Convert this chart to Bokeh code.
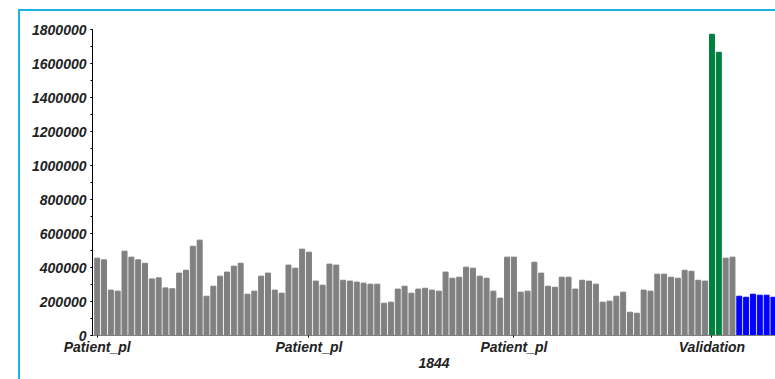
from bokeh.plotting import figure
from bokeh.models import ColumnDataSource, Range1d, FixedTicker, NumeralTickFormatter, InlineStyleSheet
from bokeh.embed import file_html
from bokeh.resources import INLINE

# Sample values, one bar per sample
values = [
    455000, 445000, 267000, 261000, 496000, 461000, 445000, 425000, 333000, 339000,
    280000, 275000, 367000, 384000, 525000, 561000, 231000, 290000, 349000, 373000,
    408000, 425000, 243000, 261000, 349000, 367000, 267000, 249000, 414000, 396000,
    508000, 490000, 320000, 296000, 420000, 414000, 325000, 320000, 314000, 308000,
    302000, 302000, 190000, 196000, 273000, 290000, 249000, 273000, 278000, 267000,
    261000, 373000, 337000, 343000, 402000, 396000, 349000, 337000, 261000, 220000,
    461000, 461000, 255000, 261000, 431000, 367000, 290000, 284000, 343000, 343000,
    273000, 325000, 320000, 302000, 196000, 202000, 231000, 255000, 137000, 131000,
    267000, 261000, 361000, 361000, 343000, 337000, 384000, 378000, 325000, 320000,
    1772000, 1666000, 455000, 461000, 231000, 225000, 243000, 237000, 237000, 225000,
]

# Group of each sample (drives the bar colour)
groups = ["patient"] * 90 + ["reference"] * 2 + ["patient"] * 2 + ["control"] * 6

group_colors = {"patient": "#808080", "reference": "#008040", "control": "#0000ff"}

# Category labels shown on the x axis (bar index -> label)
tick_index = [0, 31, 61, 90]
tick_labels = ["Patient_pl", "Patient_pl", "Patient_pl", "Validation"]

x_title = "1844"

src = ColumnDataSource(dict(
    x=list(range(len(values))),
    value=values,
    color=[group_colors[g] for g in groups],
))

font = "Liberation Sans"

# thin cyan panel frame drawn around the chart area (left and top edges visible)
panel_css = InlineStyleSheet(css="""
:host { position: relative; }
:host::after {
  content: "";
  position: absolute;
  left: 18px; top: 9px;
  width: calc(100% - 18px); height: calc(100% - 9px);
  border-left: 2px solid #1ab4e0;
  border-top: 2px solid #1ab4e0;
  box-sizing: border-box;
  pointer-events: none;
}
""")

p = figure(
    width=775, height=379,
    output_backend="svg", toolbar_location=None,
    x_range=Range1d(-0.688, 99.3), y_range=Range1d(0, 1800000),
    min_border_left=92, min_border_right=0, min_border_top=29, min_border_bottom=44,
    stylesheets=[panel_css],
)
p.outline_line_color = None
p.xgrid.visible = False
p.ygrid.visible = False
p.background_fill_color = "white"
p.border_fill_color = "white"

p.vbar(x="x", top="value", width=0.73, color="color", source=src)

# y axis
ya = p.yaxis[0]
ya.ticker = FixedTicker(ticks=list(range(0, 1800001, 200000)),
                        minor_ticks=list(range(0, 1800001, 100000)))
ya.formatter = NumeralTickFormatter(format="0")
ya.axis_line_color = "black"
ya.major_tick_in = 0
ya.major_tick_out = 2
ya.minor_tick_in = 0
ya.minor_tick_out = 2
ya.major_tick_line_color = "black"
ya.minor_tick_line_color = "black"
ya.major_label_standoff = 4
ya.major_label_text_font = font
ya.major_label_text_font_size = "14px"
ya.major_label_text_font_style = "bold italic"
ya.major_label_text_color = "#222222"

# x axis
xa = p.xaxis[0]
xa.ticker = FixedTicker(ticks=tick_index, minor_ticks=[])
xa.major_label_overrides = {i: t for i, t in zip(tick_index, tick_labels)}
xa.axis_line_color = "#808080"
xa.major_tick_in = 0
xa.major_tick_out = 2
xa.major_tick_line_color = "black"
xa.minor_tick_line_color = None
xa.major_label_standoff = 1
xa.major_label_text_font = font
xa.major_label_text_font_size = "14px"
xa.major_label_text_font_style = "bold italic"
xa.major_label_text_color = "#222222"
xa.axis_label = x_title
xa.axis_label_standoff = 0
xa.axis_label_text_font = font
xa.axis_label_text_font_size = "14px"
xa.axis_label_text_font_style = "bold italic"
xa.axis_label_text_color = "#222222"

open("out.html", "w").write(file_html(p, INLINE))
